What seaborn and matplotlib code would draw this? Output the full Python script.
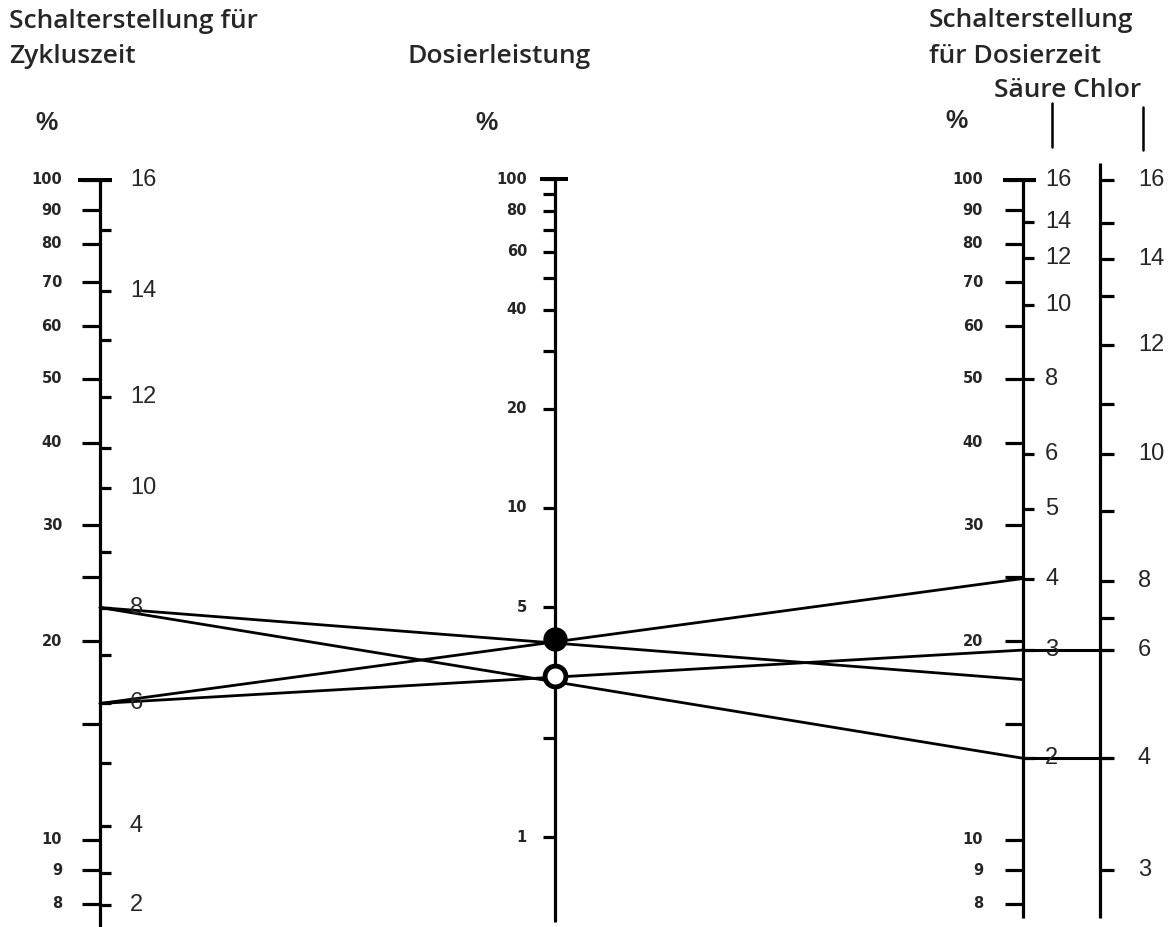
import matplotlib
matplotlib.use("Agg")
import matplotlib.pyplot as plt
import numpy as np
import pandas as pd
import seaborn as sns

# ---------------- data ----------------
pct_labelled = [100, 90, 80, 70, 60, 50, 40, 30, 20, 10, 9, 8]
pct_unlabelled = [25, 15]

mid_labelled = [100, 80, 60, 40, 20, 10, 5, 1]
mid_unlabelled = [90, 70, 50, 30, 2]

zyklus_setting = [16, 15, 14, 13, 12, 11, 10, 9, 8, 7, 6, 5, 4, 3, 2]
zyklus_pct = [100, 84.0, 67.9, 57.2, 46.9, 39.3, 34.1, 27.3, 22.5, 19.1, 16.1, 13.1, 10.5, 8.9, 7.97]
zyklus_labelled = [16, 14, 12, 10, 8, 6, 4, 2]

saeure_setting = [16, 14, 12, 10, 8, 6, 5, 4, 3, 2]
saeure_pct = [100, 86.4, 76.2, 64.7, 50.0, 38.4, 31.7, 24.9, 19.4, 13.3]

chlor_setting = [16, 15, 14, 13, 12, 11, 10, 9, 8, 7, 6, 4, 3]
chlor_pct = [100, 86.1, 75.9, 66.8, 56.2, 45.7, 38.4, 31.5, 24.7, 21.7, 19.4, 13.3, 9.0]
chlor_labelled = [16, 14, 12, 10, 8, 6, 4, 3]

# example readings: left (Zykluszeit %) -> right (Dosierzeit %), crossing the middle scale
line_id = [1, 2, 3, 4]
line_left_pct = [22.5, 22.5, 16.1, 16.1]
line_right_pct = [17.5, 13.3, 24.9, 19.4]
extended_to_chlor = [False, True, False, True]
circle_mid_pct = [4.0, 3.08]
circle_filled = [True, False]

# ---------------- layout ----------------
W, H = 1174, 927
X_LEFT, X_MID, X_SAEURE, X_CHLOR = 100, 555, 1023, 1100

sns.set_style("white")
plt.rcParams["font.family"] = ["Liberation Sans", "DejaVu Sans"]

fig = plt.figure(figsize=(W / 100, H / 100), dpi=100)
ax = fig.add_axes([0, 0, 1, 1])
ax.set_xlim(0, W)
ax.set_yscale("log")
# outer scales: 100 % at 180 px, 10 % at 840 px from top
dec = 660.0
ax.set_ylim(10 ** (1 - (H - 840) / dec), 10 ** (2 + 180 / dec))
ax.axis("off")

axm = ax.twinx()
axm.set_yscale("log")
decm = 329.0
axm.set_ylim(10 ** (0 - (H - 837) / decm), 10 ** (2 + 179 / decm))
axm.axis("off")

LW_AX = 2.3
LW_TK = 2.3
K = "black"

ylo = ax.get_ylim()[0]

# axis lines
ax.vlines(X_LEFT, ylo, 100, color=K, lw=LW_AX)
ax.vlines(X_SAEURE, 7.62, 100, color=K, lw=LW_AX)
ax.vlines(X_CHLOR, 7.62, 106, color=K, lw=LW_AX)
axm.vlines(X_MID, 0.552, 100, color=K, lw=LW_AX)

# caps
ax.hlines(100, X_LEFT - 22, X_LEFT + 12, color=K, lw=LW_TK + 0.6)
ax.hlines(100, X_SAEURE - 20, X_SAEURE + 13, color=K, lw=LW_TK + 0.6)
axm.hlines(100, X_MID - 15, X_MID + 13, color=K, lw=LW_TK + 0.6)

pct_font = dict(family="DejaVu Sans", fontsize=10.5, fontweight="bold")
num_font = dict(fontsize=17)

# left % scale
ax.hlines(pct_labelled + pct_unlabelled, X_LEFT - 18, X_LEFT, color=K, lw=LW_TK)
for v in pct_labelled:
    ax.text(62, v, str(v), ha="right", va="center", **pct_font)
# Zykluszeit settings
ax.hlines(zyklus_pct, X_LEFT, X_LEFT + 11, color=K, lw=LW_TK)
for s, p in zip(zyklus_setting, zyklus_pct):
    if s in zyklus_labelled:
        ax.text(130, p, str(s), ha="left", va="center", **num_font)

# middle scale
axm.hlines(mid_labelled + mid_unlabelled, X_MID - 12, X_MID, color=K, lw=LW_TK)
for v in mid_labelled:
    axm.text(527, v, str(v), ha="right", va="center", **pct_font)

# right % scale
ax.hlines(pct_labelled + pct_unlabelled, X_SAEURE - 18, X_SAEURE, color=K, lw=LW_TK)
for v in pct_labelled:
    ax.text(983, v, str(v), ha="right", va="center", **pct_font)
# Säure settings
ax.hlines(saeure_pct, X_SAEURE, X_SAEURE + 11, color=K, lw=LW_TK)
for s, p in zip(saeure_setting, saeure_pct):
    ax.text(1045, p, str(s), ha="left", va="center", **num_font)
# Chlor settings
ax.hlines(chlor_pct, X_CHLOR, X_CHLOR + 14, color=K, lw=LW_TK)
for s, p in zip(chlor_setting, chlor_pct):
    if s in chlor_labelled:
        ax.text(1138, p, str(s), ha="left", va="center", **num_font)

# example lines (straight from left scale to right scale)
df = pd.DataFrame({
    "line": np.repeat(line_id, 2),
    "x": [X_LEFT, X_SAEURE] * len(line_id),
    "pct": [v for pair in zip(line_left_pct, line_right_pct) for v in pair],
})
sns.lineplot(data=df, x="x", y="pct", units="line", estimator=None,
             color=K, lw=2.0, ax=ax, legend=False, sort=False)
for ext, r in zip(extended_to_chlor, line_right_pct):
    if ext:
        ax.hlines(r, X_SAEURE, X_CHLOR + 12, color=K, lw=2.2)

# circles on the middle scale
for m, filled in zip(circle_mid_pct, circle_filled):
    axm.plot([X_MID], [m], marker="o", ms=16 if filled else 15,
             mfc=K if filled else "white", mec=K, mew=3.5 if not filled else 1.5,
             zorder=5)

ax.set_xlim(0, W)
axm.set_xlim(0, W)

# ---------------- headings ----------------
def fx(x):
    return x / W

def fy(y):
    return 1 - y / H

tfont = dict(family=["Open Sans", "Liberation Sans", "DejaVu Sans"], fontsize=19, fontweight="semibold")
fig.text(fx(9), fy(28), "Schalterstellung für", ha="left", va="baseline", **tfont)
fig.text(fx(9), fy(63), "Zykluszeit", ha="left", va="baseline", **tfont)
fig.text(fx(407), fy(63), "Dosierleistung", ha="left", va="baseline", **tfont)
fig.text(fx(929), fy(27), "Schalterstellung", ha="left", va="baseline", **tfont)
fig.text(fx(929), fy(63), "für Dosierzeit", ha="left", va="baseline", **tfont)
fig.text(fx(994), fy(97), "Säure Chlor", ha="left", va="baseline", **tfont)

pfont = dict(family="Liberation Sans", fontsize=18, fontweight="bold")
fig.text(fx(46), fy(123), "%", ha="center", va="center", **pfont)
fig.text(fx(487), fy(123), "%", ha="center", va="center", **pfont)
fig.text(fx(957), fy(121), "%", ha="center", va="center", **pfont)

fig.add_artist(plt.Line2D([fx(1052), fx(1052)], [fy(103), fy(147)], color=K, lw=1.8))
fig.add_artist(plt.Line2D([fx(1143), fx(1143)], [fy(107), fy(150)], color=K, lw=1.8))

fig.savefig("out.png", dpi=100)
